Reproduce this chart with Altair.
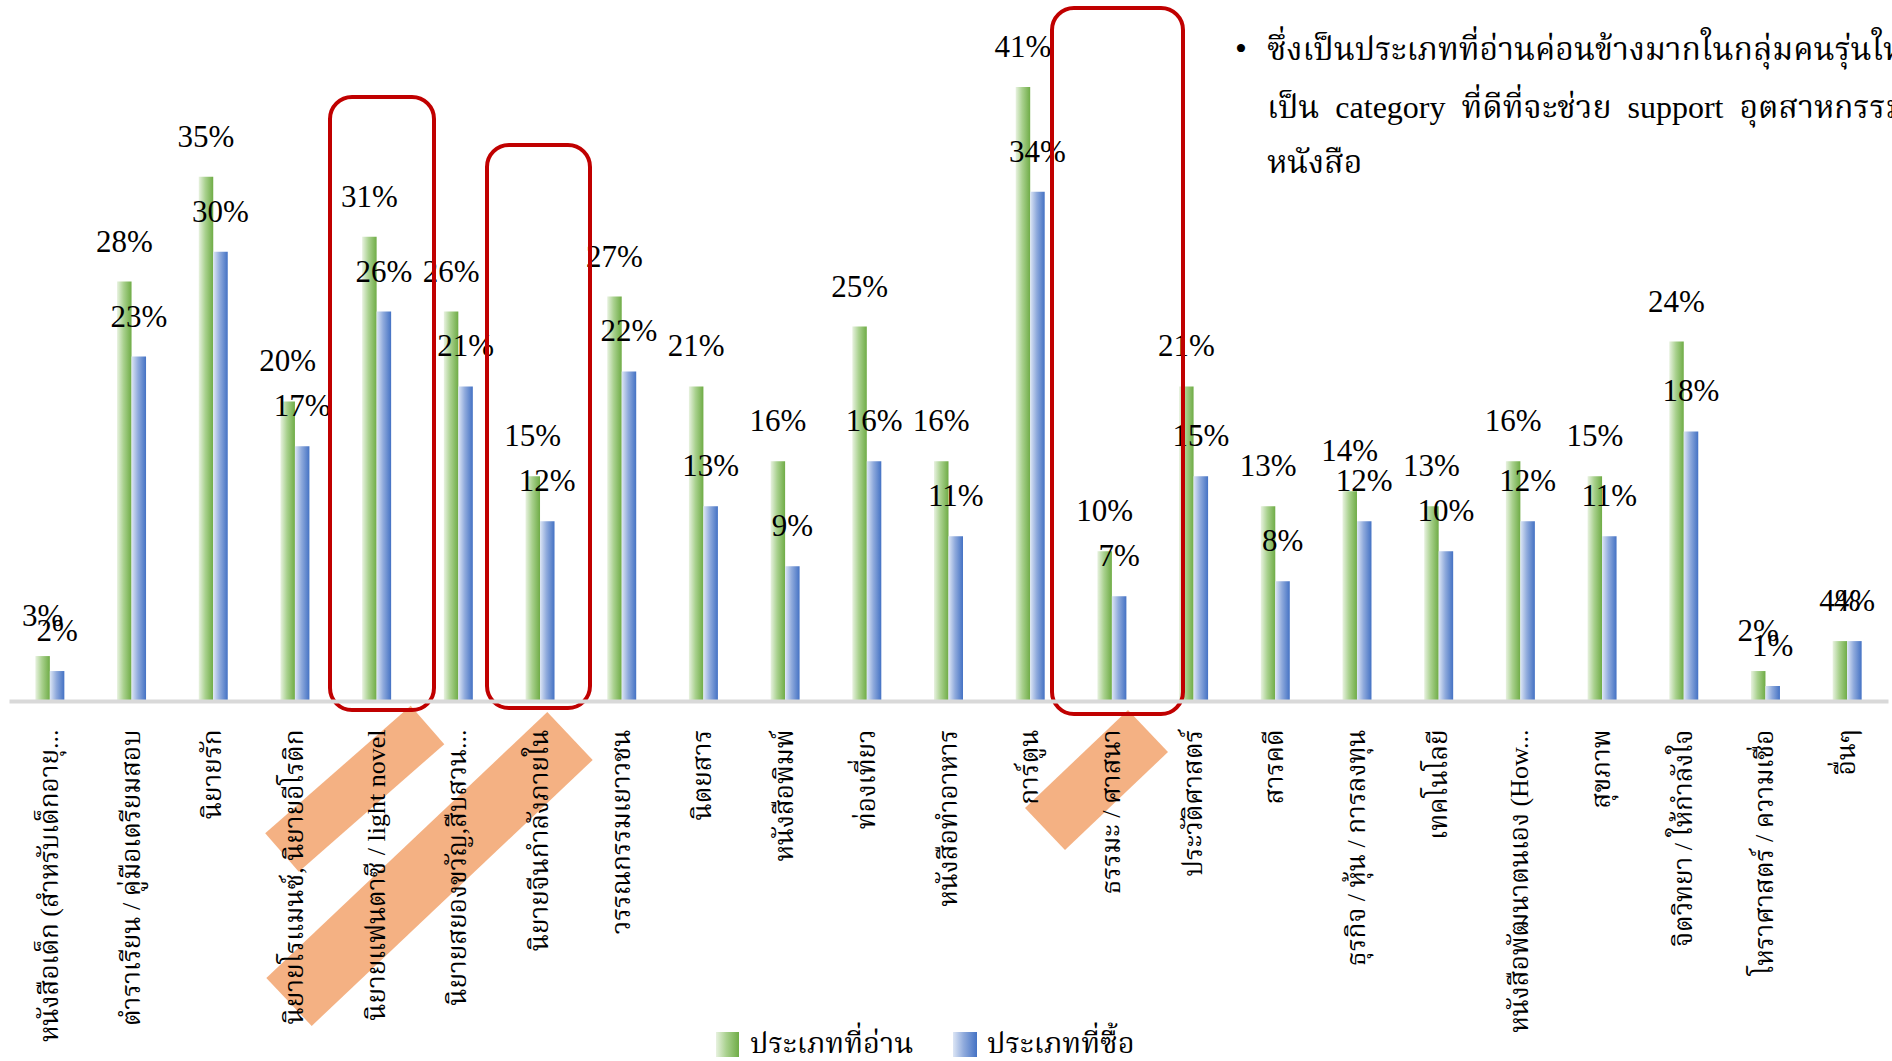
import altair as alt
import pandas as pd

# ---- data -------------------------------------------------------------
categories = [
    "หนังสือเด็ก (สำหรับเด็กอายุ...",
    "ตำราเรียน / คู่มือเตรียมสอบ",
    "นิยายรัก",
    "นิยายโรแมนซ์, นิยายอีโรติก",
    "นิยายแฟนตาซี / light novel",
    "นิยายสยองขวัญ,สืบสวน...",
    "นิยายจีนกำลังภายใน",
    "วรรณกรรมเยาวชน",
    "นิตยสาร",
    "หนังสือพิมพ์",
    "ท่องเที่ยว",
    "หนังสือทำอาหาร",
    "การ์ตูน",
    "ธรรมะ / ศาสนา",
    "ประวัติศาสตร์",
    "สารคดี",
    "ธุรกิจ / หุ้น / การลงทุน",
    "เทคโนโลยี",
    "หนังสือพัฒนาตนเอง (How...",
    "สุขภาพ",
    "จิตวิทยา / ให้กำลังใจ",
    "โหราศาสตร์ / ความเชื่อ",
    "อื่นๆ",
]
read_pct = [3, 28, 35, 20, 31, 26, 15, 27, 21, 16, 25, 16, 41, 10, 21, 13, 14, 13, 16, 15, 24, 2, 4]
buy_pct = [2, 23, 30, 17, 26, 21, 12, 22, 13, 9, 16, 11, 34, 7, 15, 8, 12, 10, 12, 11, 18, 1, 4]

series_names = ["ประเภทที่อ่าน", "ประเภทที่ซื้อ"]

NB = "\u00a0"
notes = [
    "ซึ่งเป็นประเภทที่อ่านค่อนข้างมากในกลุ่มคนรุ่นใหม่",
    f"เป็น{NB}{NB}category{NB}{NB}ที่ดีที่จะช่วย{NB}{NB}support{NB}{NB}อุตสาหกรรม",
    "หนังสือ",
]

# ---- layout -----------------------------------------------------------
W, H = 1879, 689
BAR_W = 14.5
THAI_SERIF = "Liberation Serif, Noto Serif Thai, Noto Sans Thai, Garuda, Norasi, serif"

green = alt.Gradient(
    gradient="linear", x1=0, x2=1, y1=0, y2=0,
    stops=[alt.GradientStop(offset=0, color="#e8f2e0"),
           alt.GradientStop(offset=0.45, color="#a9d18e"),
           alt.GradientStop(offset=1, color="#6fac46")],
)
blue = alt.Gradient(
    gradient="linear", x1=0, x2=1, y1=0, y2=0,
    stops=[alt.GradientStop(offset=0, color="#dde6f5"),
           alt.GradientStop(offset=0.45, color="#8faadc"),
           alt.GradientStop(offset=1, color="#4472c4")],
)

df = pd.DataFrame({"cat": categories, "read": read_pct, "buy": buy_pct})

x_enc = alt.X(
    "cat:N", sort=categories,
    scale=alt.Scale(paddingInner=0, paddingOuter=0),
    axis=alt.Axis(
        title=None, labelAngle=-90, ticks=False,
        domainColor="#d9d9d9", domainWidth=4,
        labelFont=THAI_SERIF, labelFontSize=26, labelColor="#000000",
        labelPadding=28, labelLimit=1000, zindex=1,
    ),
)
y_scale = alt.Scale(domain=[0, 46])

base = alt.Chart(df)

read_bars = base.mark_bar(width=BAR_W, xOffset=-BAR_W / 2, color=green).encode(
    x=x_enc, y=alt.Y("read:Q", scale=y_scale, axis=None)
)
buy_bars = base.mark_bar(width=BAR_W, xOffset=BAR_W / 2, color=blue).encode(
    x=alt.X("cat:N", sort=categories), y=alt.Y("buy:Q", scale=y_scale, axis=None)
)

label_style = dict(font="Liberation Serif", fontSize=31, color="#000000",
                   baseline="alphabetic", dy=-30)
read_labels = base.transform_calculate(t="datum.read + '%'").mark_text(
    xOffset=-BAR_W / 2, **label_style
).encode(x=alt.X("cat:N", sort=categories), y=alt.Y("read:Q", scale=y_scale), text="t:N")
buy_labels = base.transform_calculate(t="datum.buy + '%'").mark_text(
    xOffset=BAR_W / 2, **label_style
).encode(x=alt.X("cat:N", sort=categories), y=alt.Y("buy:Q", scale=y_scale), text="t:N")

# ---- highlight overlays -------------------------------------------------
stripes = pd.DataFrame({
    "x": [418.5, 561, 1139], "y": [713, 724, 719],
    "x2": [273, 280, 1036], "y2": [840.5, 990, 817],
    "w": [51, 66, 58],
})
stripe_layer = alt.Chart(stripes).mark_rule(color="#f4b183", strokeCap="butt").encode(
    x=alt.X("x:Q", scale=None), y=alt.Y("y:Q", scale=None),
    x2="x2:Q", y2="y2:Q", strokeWidth=alt.StrokeWidth("w:Q", scale=None),
)

boxes = pd.DataFrame({
    "x": [321, 478, 1043], "x2": [425, 581, 1174],
    "y": [85, 133, -4], "y2": [698, 696, 702],
})
box_layer = alt.Chart(boxes).mark_rect(
    fillOpacity=0, stroke="#c00000", strokeWidth=4, cornerRadius=22
).encode(
    x=alt.X("x:Q", scale=None), x2="x2:Q",
    y=alt.Y("y:Q", scale=None), y2="y2:Q",
)

# ---- bullet note --------------------------------------------------------
note_df = pd.DataFrame({"t": notes, "y": [48, 106, 161]})
note_layer = alt.Chart(note_df).mark_text(
    align="left", baseline="alphabetic", font=THAI_SERIF, fontSize=32, color="#000000"
).encode(x=alt.value(1258), y=alt.Y("y:Q", scale=None), text="t:N")
bullet_layer = alt.Chart(pd.DataFrame({"t": ["•"]})).mark_text(
    align="left", baseline="alphabetic", font="Liberation Serif", fontSize=34, color="#000000"
).encode(x=alt.value(1226), y=alt.value(48), text="t:N")

# ---- legend -------------------------------------------------------------
leg_green = alt.Chart(pd.DataFrame({"a": [0]})).mark_rect(color=green).encode(
    x=alt.value(707), x2=alt.value(730), y=alt.value(1020), y2=alt.value(1045)
)
leg_blue = alt.Chart(pd.DataFrame({"a": [0]})).mark_rect(color=blue).encode(
    x=alt.value(944), x2=alt.value(968), y=alt.value(1020), y2=alt.value(1045)
)
leg_text = alt.Chart(pd.DataFrame({"t": series_names, "x": [741, 978]})).mark_text(
    align="left", baseline="alphabetic", font=THAI_SERIF, fontSize=29, color="#000000"
).encode(x=alt.X("x:Q", scale=None), y=alt.value(1041), text="t:N")

chart = alt.layer(
    stripe_layer, read_bars, buy_bars, read_labels, buy_labels, box_layer,
    note_layer, bullet_layer, leg_green, leg_blue, leg_text,
).properties(
    width=W, height=H,
    background="#ffffff",
    autosize=alt.AutoSizeParams(type="none"),
    padding={"left": 9, "top": 12, "right": 4, "bottom": 360},
).configure_view(stroke=None)

chart.save("out.html", embed_options={"renderer": "svg", "actions": False})
